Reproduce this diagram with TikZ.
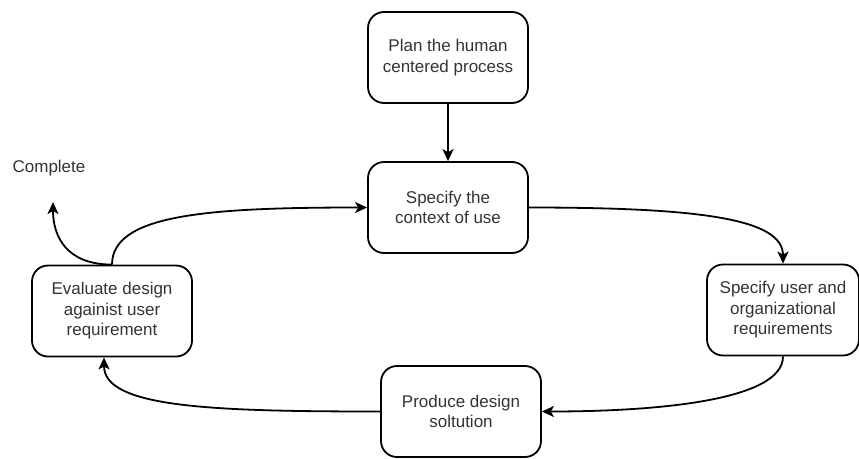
\documentclass[tikz,border=0pt]{standalone}
\usepackage{fontspec}
\setmainfont{Liberation Sans}
\usetikzlibrary{arrows.meta}
\definecolor{ink}{HTML}{333333}
\tikzset{
  stage/.style={draw, line width=1.8pt, rounded corners=16pt,
    minimum width=160pt, minimum height=91pt, inner sep=0pt,
    align=center, text=ink, font=\fontsize{17}{20.5}\selectfont},
  flow/.style={line width=1.8pt, -{Stealth[length=12pt,width=11pt,inset=3pt]}},
}
\begin{document}
\begin{tikzpicture}[x=1pt,y=-1pt]
      \useasboundingbox (0,0) rectangle (859,458);
      \draw
        (448,57.5) node[stage] (plan){Plan the human\\centered process}
        (448,207.5) node[stage] (context){Specify the\\context of use}
        (783,310) node[stage, minimum width=152pt] (require){Specify user and\\organizational\\requirements}
        (461,411.5) node[stage] (produce){Produce design\\soltution}
        (112,311) node[stage] (evaluate){Evaluate design\\againist user\\requirement}
        (49,168) node[text=ink, font=\fontsize{17}{20.5}\selectfont] (complete){Complete};
      \coordinate (exit) at (53,202);
      \begin{scope}[flow]
        \draw (plan) to (context);
        \draw (context.east) .. controls +(170,0) and +(0,-45) .. (require.north);
        \draw (require.south) .. controls +(0,45) and +(110,0) .. (produce.east);
        \draw (produce.west) .. controls +(-170,0) and +(0,50) .. ([xshift=-8pt]evaluate.south);
        \draw (evaluate.north) .. controls +(0,-50) and +(-160,0) .. (context.west);
        \draw (evaluate.north) .. controls +(-45,0) and +(0,35) .. (exit);
      \end{scope}
    \end{tikzpicture}
\end{document}
